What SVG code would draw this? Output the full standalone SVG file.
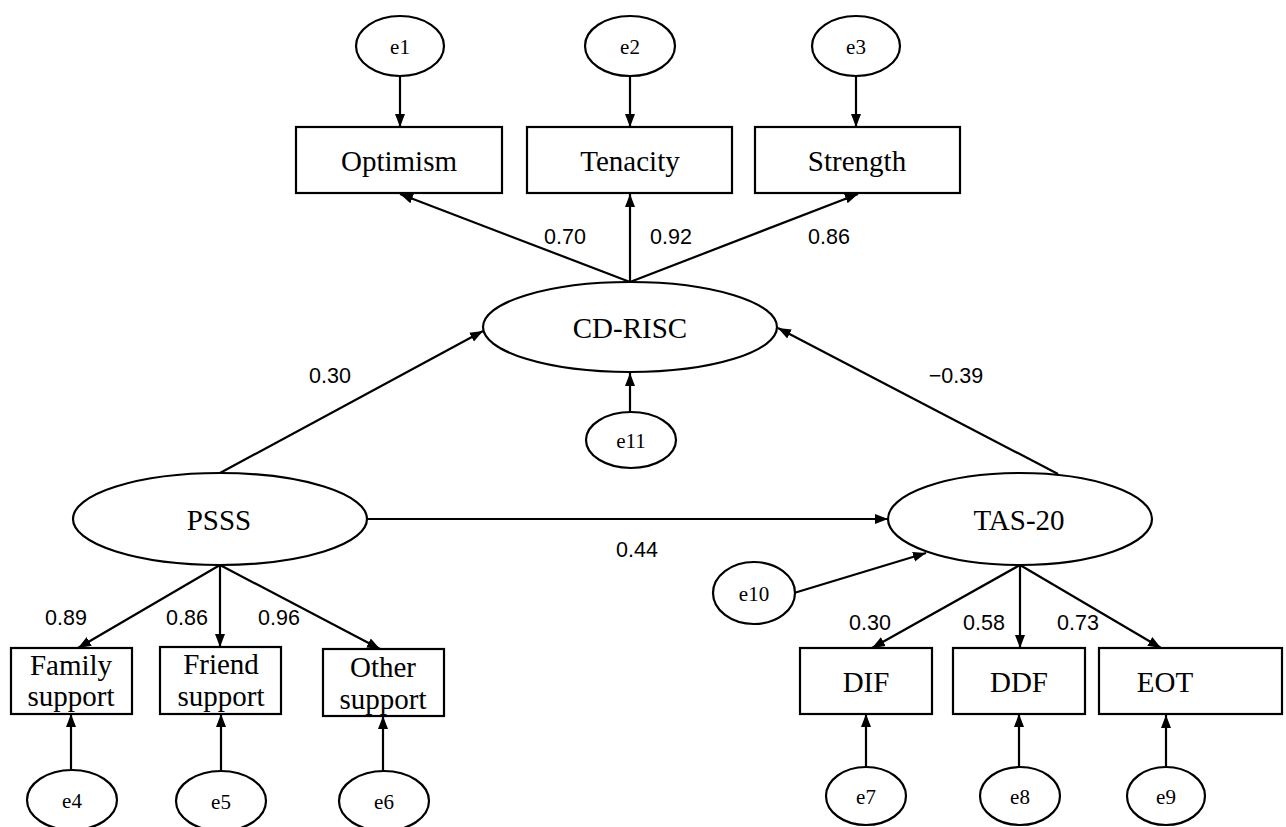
<svg xmlns="http://www.w3.org/2000/svg" width="1286" height="827" viewBox="0 0 1286 827">
<style>
.s{fill:#fff;stroke:#000;stroke-width:2.2}
.t{font-family:"Liberation Serif","Times New Roman",serif;fill:#000;text-anchor:middle}
.big{font-size:29px}
.mid{font-size:29px}
.sm{font-size:21px}
.n{font-family:"Liberation Sans",Arial,sans-serif;font-size:21.5px;fill:#000;text-anchor:middle}
.c{stroke:#000;stroke-width:2.2;fill:none;marker-end:url(#ah)}
</style>
<defs>
<marker id="ah" markerUnits="userSpaceOnUse" markerWidth="14" markerHeight="12" viewBox="0 0 14 12" refX="13" refY="6" orient="auto">
<path d="M0,1 L13,6 L0,11 z" fill="#000"/>
</marker>
</defs>
<rect width="1286" height="827" fill="#fff"/>
<g id="connectors">
<line class="c" x1="400" y1="76" x2="400" y2="127"/>
<line class="c" x1="630" y1="77" x2="630" y2="127"/>
<line class="c" x1="856" y1="77" x2="856" y2="127"/>
<line class="c" x1="630" y1="282" x2="400" y2="194"/>
<line class="c" x1="630" y1="282" x2="630" y2="194"/>
<line class="c" x1="630" y1="282" x2="858" y2="194"/>
<line class="c" x1="630" y1="412" x2="630" y2="373"/>
<line class="c" x1="220" y1="473" x2="483" y2="331"/>
<line class="c" x1="1058" y1="474" x2="778" y2="328"/>
<line class="c" x1="367" y1="519" x2="888" y2="519"/>
<line class="c" x1="794" y1="593" x2="926" y2="553"/>
<line class="c" x1="220" y1="565" x2="78" y2="648"/>
<line class="c" x1="220" y1="565" x2="220" y2="647"/>
<line class="c" x1="220" y1="565" x2="380" y2="649"/>
<line class="c" x1="1020" y1="565" x2="872" y2="648"/>
<line class="c" x1="1020" y1="565" x2="1020" y2="648"/>
<line class="c" x1="1020" y1="565" x2="1161" y2="648"/>
<line class="c" x1="71" y1="770" x2="71" y2="714"/>
<line class="c" x1="221" y1="771" x2="221" y2="714"/>
<line class="c" x1="383" y1="771" x2="383" y2="716"/>
<line class="c" x1="866" y1="767" x2="866" y2="714"/>
<line class="c" x1="1019" y1="767" x2="1019" y2="714"/>
<line class="c" x1="1166" y1="767" x2="1166" y2="715"/>
</g>
<g id="labels">
<text class="n" x="565" y="244">0.70</text>
<text class="n" x="671" y="244">0.92</text>
<text class="n" x="829" y="244">0.86</text>
<text class="n" x="330" y="383">0.30</text>
<text class="n" x="956" y="383">−0.39</text>
<text class="n" x="637" y="557">0.44</text>
<text class="n" x="66" y="625">0.89</text>
<text class="n" x="187" y="625">0.86</text>
<text class="n" x="279" y="625">0.96</text>
<text class="n" x="870" y="630">0.30</text>
<text class="n" x="984" y="630">0.58</text>
<text class="n" x="1078" y="630">0.73</text>
</g>
<g id="e1"><ellipse class="s" cx="400" cy="46" rx="44" ry="30"/><text class="t sm" x="400" y="54">e1</text></g>
<g id="e2"><ellipse class="s" cx="630" cy="46" rx="45" ry="30"/><text class="t sm" x="630" y="54">e2</text></g>
<g id="e3"><ellipse class="s" cx="856" cy="46" rx="44" ry="30"/><text class="t sm" x="856" y="54">e3</text></g>
<g id="optimism"><rect class="s" x="296" y="127" width="206" height="66"/><text class="t big" x="399" y="171">Optimism</text></g>
<g id="tenacity"><rect class="s" x="527" y="127" width="205" height="66"/><text class="t big" x="630" y="171">Tenacity</text></g>
<g id="strength"><rect class="s" x="755" y="127" width="205" height="66"/><text class="t big" x="857" y="171">Strength</text></g>
<g id="cdrisc"><ellipse class="s" cx="630" cy="327" rx="147" ry="45"/><text class="t big" x="630" y="338">CD-RISC</text></g>
<g id="e11"><ellipse class="s" cx="631" cy="440" rx="45" ry="28"/><text class="t sm" x="631" y="448">e11</text></g>
<g id="psss"><ellipse class="s" cx="220" cy="519" rx="147" ry="46"/><text class="t big" x="219" y="530">PSSS</text></g>
<g id="tas20"><ellipse class="s" cx="1020" cy="519" rx="132" ry="46"/><text class="t big" x="1019" y="530">TAS-20</text></g>
<g id="e10"><ellipse class="s" cx="754" cy="593" rx="41" ry="31"/><text class="t sm" x="754" y="601">e10</text></g>
<g id="family"><rect class="s" x="11" y="648" width="121" height="66"/><text class="t mid" x="71" y="675">Family</text><text class="t mid" x="71" y="706">support</text></g>
<g id="friend"><rect class="s" x="160" y="647" width="121" height="67"/><text class="t mid" x="221" y="674">Friend</text><text class="t mid" x="221" y="706">support</text></g>
<g id="other"><rect class="s" x="323" y="649" width="121" height="67"/><text class="t mid" x="383" y="677">Other</text><text class="t mid" x="383" y="709">support</text></g>
<g id="dif"><rect class="s" x="800" y="648" width="132" height="66"/><text class="t big" x="866" y="692">DIF</text></g>
<g id="ddf"><rect class="s" x="953" y="648" width="132" height="66"/><text class="t big" x="1019" y="692">DDF</text></g>
<g id="eot"><rect class="s" x="1099" y="648" width="183" height="66"/><text class="t big" x="1165" y="692">EOT</text></g>
<g id="e4"><ellipse class="s" cx="72" cy="800" rx="45" ry="30"/><text class="t sm" x="72" y="808">e4</text></g>
<g id="e5"><ellipse class="s" cx="221" cy="801" rx="45" ry="30"/><text class="t sm" x="221" y="809">e5</text></g>
<g id="e6"><ellipse class="s" cx="384" cy="801" rx="45" ry="30"/><text class="t sm" x="384" y="809">e6</text></g>
<g id="e7"><ellipse class="s" cx="866" cy="796" rx="40" ry="29"/><text class="t sm" x="866" y="804">e7</text></g>
<g id="e8"><ellipse class="s" cx="1020" cy="796" rx="40" ry="29"/><text class="t sm" x="1020" y="804">e8</text></g>
<g id="e9"><ellipse class="s" cx="1166" cy="796" rx="39" ry="29"/><text class="t sm" x="1166" y="804">e9</text></g>
</svg>
